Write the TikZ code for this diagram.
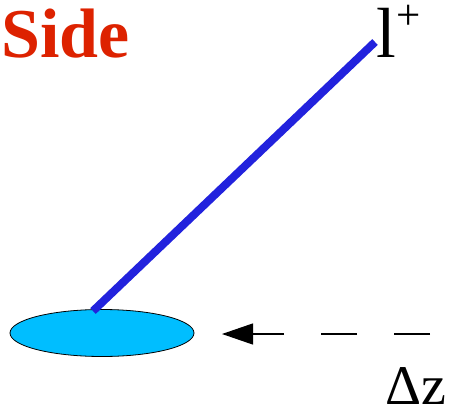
\documentclass[tikz,border=0pt]{standalone}
\usepackage{fontspec}
\setmainfont{Liberation Serif}
\usetikzlibrary{arrows.meta,shapes.geometric}
\definecolor{sidered}{RGB}{221,34,0}
\definecolor{lineblue}{RGB}{34,34,221}
\definecolor{diskcyan}{RGB}{0,190,255}
\tikzset{
  titletext/.style={font=\fontsize{70}{70}\selectfont\bfseries, text=sidered, inner sep=0pt, anchor=base west},
  labeltext/.style={font=\fontsize{71}{71}\selectfont, inner sep=0pt, anchor=base west},
  dztext/.style={font=\fontsize{56}{56}\selectfont, inner sep=0pt, anchor=base west},
  track/.style={line width=8pt, draw=lineblue},
  diskshape/.style={ellipse, draw=black, line width=0.8pt, fill=diskcyan, minimum width=184pt, minimum height=47pt, inner sep=0pt},
  shiftarrow/.style={line width=1.2pt, dash pattern=on 36pt off 37pt, -{Triangle[length=31pt,width=21pt]}}
}
\begin{document}
\begin{tikzpicture}[x=1pt,y=-1pt]
\useasboundingbox (0,0) rectangle (451,413);
\node[titletext] (side) at (1,57) {Side};
\node[labeltext] (lplus) at (376,57) {l\raisebox{28pt}{\fontsize{43}{43}\selectfont\kern1pt+}};
\node[diskshape] (disk) at (102,333) {};
\coordinate (trackbase) at (93,311);
\coordinate (tracktop) at (375,42);
\draw[track] (trackbase) -- (tracktop);
\coordinate (arrowstart) at (430,334);
\coordinate (arrowend) at (222,334);
\draw[shiftarrow] (arrowstart) -- (arrowend);
\node[dztext] (dz) at (385,404) {Δz};
\end{tikzpicture}
\end{document}
